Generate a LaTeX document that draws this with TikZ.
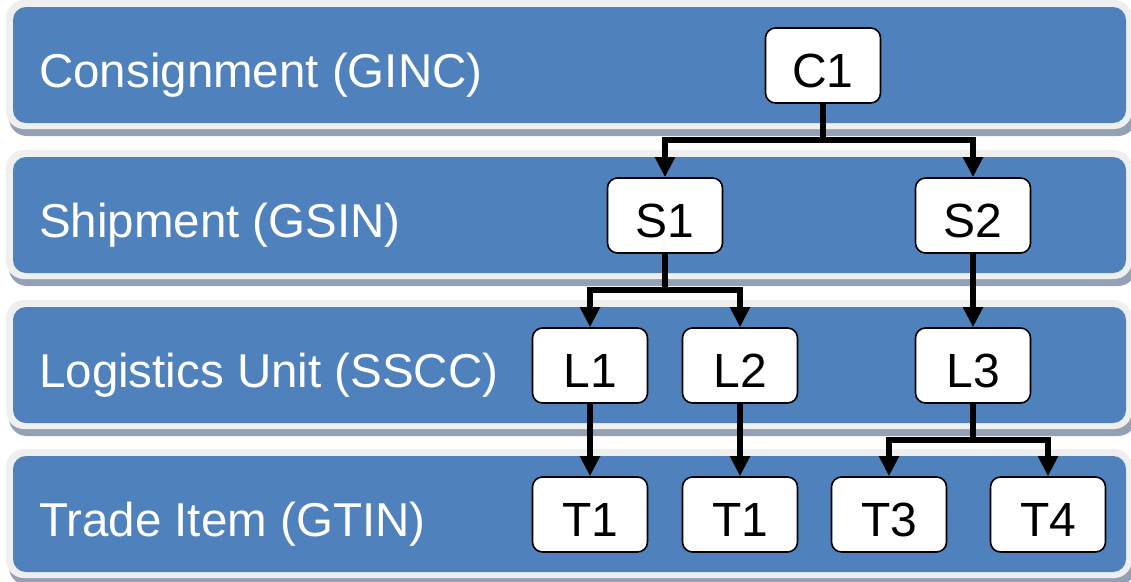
\documentclass[tikz,border=0pt]{standalone}
\usepackage{fontspec}
\setmainfont{Liberation Sans}
\usetikzlibrary{arrows.meta}
\definecolor{bandblue}{HTML}{4F81BD}
\definecolor{bandrim}{HTML}{EFEFEF}
\definecolor{bandshadow}{HTML}{94A1B5}
\tikzset{
  lvlbox/.style={draw=black, line width=1.6pt, fill=white, rounded corners=10pt,
    inner sep=0pt, minimum width=115pt, text height=59pt, text depth=16pt,
    anchor=base, font=\fontsize{48}{56}\selectfont},
  lvltext/.style={text=white, anchor=base west, inner sep=0pt,
    font=\fontsize{47.5}{56}\selectfont},
  conn/.style={line width=5.5pt, -{Triangle[width=19pt,length=20pt]}},
}
\begin{document}
\begin{tikzpicture}[x=1pt,y=-1pt]
\useasboundingbox (0,0) rectangle (1131,581);
\foreach \t in {7,157,307,456}{
  \fill[bandshadow, rounded corners=18pt] (9,\t-1) rectangle (1136,\t+129);
  \fill[bandrim, rounded corners=18pt] (6,\t-7) rectangle (1132,\t+122);
  \fill[bandblue, rounded corners=13pt] (13,\t) rectangle (1126,\t+116);
}
\node[lvltext] (lab1) at (39,87) {Consignment (GINC)};
\node[lvltext] (lab2) at (39,237) {Shipment (GSIN)};
\node[lvltext] (lab3) at (39,387) {Logistics Unit (SSCC)};
\node[lvltext] (lab4) at (39,536) {Trade Item (GTIN)};

\node[lvlbox] (C1) at (823,87) {C1};
\node[lvlbox] (S1) at (665,237) {S1};
\node[lvlbox] (S2) at (973,237) {S2};
\node[lvlbox] (L1) at (590,387) {L1};
\node[lvlbox] (L2) at (740,387) {L2};
\node[lvlbox] (L3) at (973,387) {L3};
\node[lvlbox] (T1) at (590,536) {T1};
\node[lvlbox] (T1b) at (740,536) {T1};
\node[lvlbox] (T3) at (889,536) {T3};
\node[lvlbox] (T4) at (1048,536) {T4};

\coordinate (jC) at (823,140);
\coordinate (jS) at (665,290);
\coordinate (jL) at (973,440);

\draw[conn] (C1) -- (jC) -| (S1);
\draw[conn] (jC) -| (S2);
\draw[conn] (S1) -- (jS) -| (L1);
\draw[conn] (jS) -| (L2);
\draw[conn] (S2) -- (L3);
\draw[conn] (L1) -- (T1);
\draw[conn] (L2) -- (T1b);
\draw[conn] (L3) -- (jL) -| (T3);
\draw[conn] (jL) -| (T4);
\end{tikzpicture}
\end{document}
